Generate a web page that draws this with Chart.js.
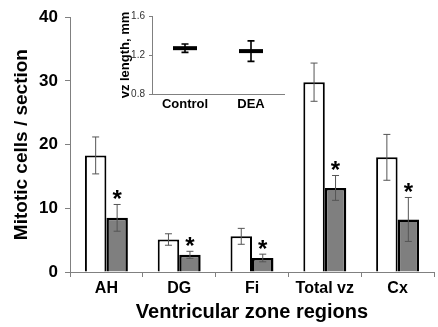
<!DOCTYPE html>
<html>
<head>
<meta charset="utf-8">
<script src="https://cdn.jsdelivr.net/npm/chart.js@4/dist/chart.umd.min.js"></script>
<style>
body { margin: 0; background: #fff; }
#wrap { position: relative; width: 438px; height: 327px; }
#main { position: absolute; left: 0; top: 0; }
#inset { position: absolute; left: 110px; top: 0; }
</style>
</head>
<body>
<div id="wrap">
  <canvas id="main" width="438" height="327"></canvas>
  <canvas id="inset" width="190" height="116"></canvas>
</div>
<script>
// main chart data
var regions = ["AH", "DG", "Fi", "Total vz", "Cx"];
var controlMean = [18.3, 5.1, 5.6, 29.8, 18.0];
var controlErr = [2.9, 0.9, 1.25, 3.0, 3.6];
var deaMean = [8.5, 2.7, 2.2, 13.2, 8.25];
var deaErr = [2.1, 0.55, 0.6, 1.95, 3.45];
var deaSignificant = [true, true, true, true, true];
var mainTicks = [0, 10, 20, 30, 40];

// inset data
var groups = ["Control", "DEA"];
var vzMean = [1.27, 1.24];
var vzErr = [0.043, 0.105];
var insetTicks = [0.8, 1.2, 1.6];

var FONT = "Arial, 'Liberation Sans', sans-serif";
var AXIS = '#808080';

// draws error bars (and asterisks) from dataset.errors / dataset.stars
var errorBars = {
  id: 'errorBars',
  afterDatasetsDraw: function(chart, args, opts) {
    var ctx = chart.ctx, y = chart.scales.y;
    chart.data.datasets.forEach(function(ds, i) {
      if (!ds.errors) return;
      var meta = chart.getDatasetMeta(i);
      meta.data.forEach(function(el, j) {
        var v = ds.data[j], e = ds.errors[j];
        var top = y.getPixelForValue(v + e), bot = y.getPixelForValue(v - e);
        ctx.save();
        ctx.strokeStyle = opts.color;
        ctx.lineWidth = opts.width;
        ctx.beginPath();
        ctx.moveTo(el.x, top); ctx.lineTo(el.x, bot);
        ctx.moveTo(el.x - opts.cap, top); ctx.lineTo(el.x + opts.cap, top);
        ctx.moveTo(el.x - opts.cap, bot); ctx.lineTo(el.x + opts.cap, bot);
        ctx.stroke();
        if (ds.stars && ds.stars[j]) {
          ctx.fillStyle = '#000';
          ctx.font = 'bold 24px ' + FONT;
          ctx.textAlign = 'center';
          ctx.textBaseline = 'alphabetic';
          ctx.fillText('*', el.x, top + 3);
        }
        ctx.restore();
      });
    });
  }
};

new Chart(document.getElementById('main'), {
  type: 'bar',
  data: {
    labels: regions,
    datasets: [{
      label: 'Control',
      data: controlMean,
      errors: controlErr,
      backgroundColor: '#ffffff',
      borderColor: '#000000',
      borderWidth: 2,
      categoryPercentage: 0.59,
      barPercentage: 1.0
    }, {
      label: 'DEA',
      data: deaMean,
      errors: deaErr,
      stars: deaSignificant,
      backgroundColor: '#7f7f7f',
      borderColor: '#000000',
      borderWidth: 2.5,
      categoryPercentage: 0.59,
      barPercentage: 1.0
    }]
  },
  options: {
    responsive: false,
    animation: false,
    layout: { padding: { top: 12, right: 4, left: 0, bottom: 0 } },
    plugins: {
      legend: { display: false },
      tooltip: { enabled: false },
      errorBars: { color: '#555', width: 1, cap: 3.5 }
    },
    scales: {
      x: {
        grid: { drawOnChartArea: false, drawTicks: true, tickLength: 5, tickColor: AXIS, offset: true },
        border: { color: AXIS, width: 1 },
        ticks: { font: { family: FONT, size: 16, weight: 'bold' }, color: '#000', padding: 2 },
        title: {
          display: true, text: 'Ventricular zone regions', color: '#000',
          font: { family: FONT, size: 20, weight: 'bold' }, padding: { top: 0, bottom: 3 }
        },
        afterFit: function(s) { s.height = 55; }
      },
      y: {
        min: 0, max: 40,
        afterBuildTicks: function(s) { s.ticks = mainTicks.map(function(v) { return { value: v }; }); },
        grid: { drawOnChartArea: false, drawTicks: true, tickLength: 5, tickColor: AXIS },
        border: { color: AXIS, width: 1 },
        ticks: { font: { family: FONT, size: 17, weight: 'bold' }, color: '#000', padding: 7 },
        title: {
          display: true, text: 'Mitotic cells / section', color: '#000',
          font: { family: FONT, size: 19, weight: 'bold' }, padding: { top: 10, bottom: 0 }
        },
        afterFit: function(s) { s.width = 70; }
      }
    }
  },
  plugins: [errorBars]
});

new Chart(document.getElementById('inset'), {
  type: 'line',
  data: {
    labels: groups,
    datasets: [{
      data: vzMean,
      errors: vzErr,
      showLine: false,
      pointStyle: 'line',
      pointRadius: 12,
      pointBorderWidth: 4,
      borderColor: '#000',
      backgroundColor: '#000'
    }]
  },
  options: {
    responsive: false,
    animation: false,
    layout: { padding: { top: 13, right: 16, left: 0, bottom: 0 } },
    plugins: {
      legend: { display: false },
      tooltip: { enabled: false },
      errorBars: { color: '#000', width: 1.6, cap: 3.5 }
    },
    scales: {
      x: {
        offset: true,
        grid: {
          drawOnChartArea: false, drawTicks: true, tickLength: 3, offset: true,
          tickColor: function(c) { return c.index === groups.length ? AXIS : 'rgba(0,0,0,0)'; }
        },
        border: { color: AXIS, width: 1 },
        ticks: { font: { family: FONT, size: 13, weight: 'bold' }, color: '#000', padding: 0 },
        afterFit: function(s) { s.height = 22; }
      },
      y: {
        min: 0.8, max: 1.6,
        afterBuildTicks: function(s) { s.ticks = insetTicks.map(function(v) { return { value: v }; }); },
        grid: { drawOnChartArea: false, drawTicks: true, tickLength: 3, tickColor: AXIS },
        border: { color: AXIS, width: 1 },
        ticks: {
          font: { family: FONT, size: 10 }, color: '#333', padding: 4,
          callback: function(v) { return Number(v).toFixed(1); }
        },
        title: {
          display: true, text: 'vz length, mm', color: '#000',
          font: { family: FONT, size: 13, weight: 'bold' }, padding: { top: 8, bottom: 0 }
        },
        afterFit: function(s) { s.width = 42; }
      }
    }
  },
  plugins: [errorBars]
});
</script>
</body>
</html>
